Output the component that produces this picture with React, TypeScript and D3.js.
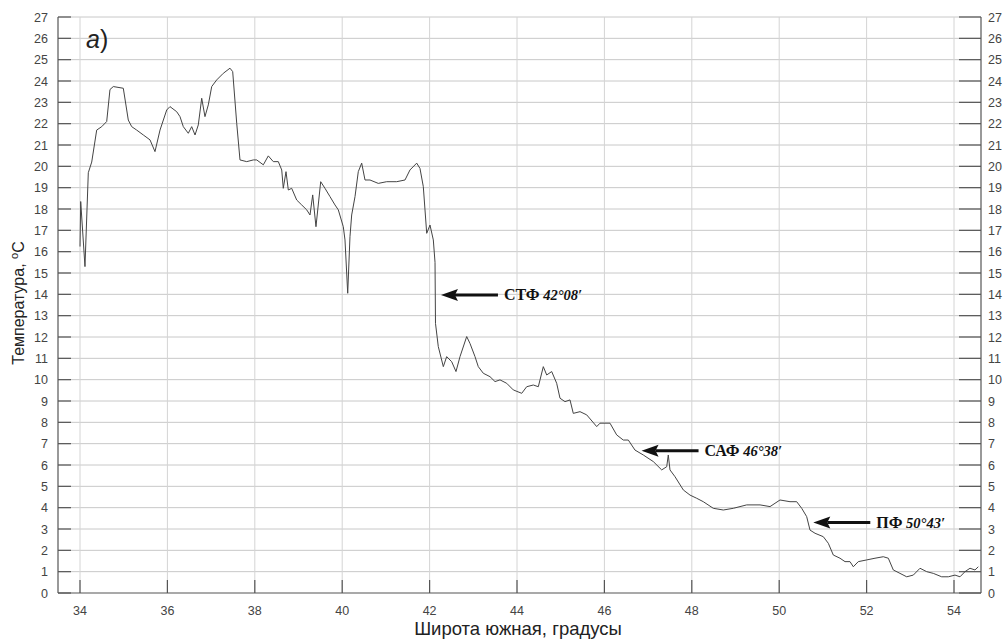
import React from 'react';
import * as d3 from 'd3';

// Широта (градусы) и температура (°C)
const latitudes = [
  34.0, 34.016, 34.114, 34.19, 34.268, 34.382, 34.497, 34.611, 34.686, 34.762, 34.991,
  35.105, 35.183, 35.297, 35.449, 35.602, 35.716, 35.831, 35.984, 36.059, 36.213, 36.288,
  36.364, 36.478, 36.556, 36.632, 36.707, 36.785, 36.86, 36.936, 37.014, 37.128, 37.279,
  37.432, 37.494, 37.586, 37.661, 37.815, 37.966, 38.044, 38.195, 38.309, 38.423, 38.538,
  38.616, 38.652, 38.714, 38.767, 38.844, 38.959, 39.073, 39.188, 39.263, 39.325, 39.4,
  39.508, 39.606, 39.721, 39.835, 39.911, 40.025, 40.064, 40.126, 40.178, 40.217, 40.293,
  40.368, 40.446, 40.522, 40.636, 40.826, 41.018, 41.247, 41.437, 41.551, 41.705, 41.78,
  41.856, 41.934, 42.009, 42.085, 42.124, 42.135, 42.199, 42.314, 42.391, 42.506, 42.604,
  42.696, 42.849, 42.924, 43.039, 43.114, 43.229, 43.382, 43.497, 43.611, 43.764, 43.915,
  44.108, 44.222, 44.373, 44.488, 44.602, 44.68, 44.794, 44.908, 44.984, 45.098, 45.213,
  45.288, 45.442, 45.595, 45.824, 45.899, 46.128, 46.281, 46.432, 46.547, 46.7, 46.89,
  47.119, 47.311, 47.426, 47.462, 47.501, 47.616, 47.806, 47.959, 48.112, 48.263, 48.492,
  48.721, 48.95, 49.256, 49.561, 49.79, 50.018, 50.247, 50.4, 50.515, 50.629, 50.705,
  50.82, 51.009, 51.124, 51.238, 51.391, 51.506, 51.62, 51.696, 51.81, 52.002, 52.192,
  52.382, 52.497, 52.611, 52.764, 52.918, 53.069, 53.222, 53.375, 53.526, 53.718, 53.87,
  54.023, 54.137, 54.252, 54.366, 54.48, 54.556,
];

const temperatures = [
  16.24, 18.35, 15.3, 19.7, 20.2, 21.7, 21.86, 22.1, 23.6, 23.74, 23.66,
  22.17, 21.86, 21.7, 21.47, 21.24, 20.69, 21.7, 22.64, 22.8, 22.56, 22.33,
  21.86, 21.55, 21.86, 21.47, 21.94, 23.19, 22.33, 22.88, 23.74, 24.05, 24.36,
  24.6, 24.44, 22.02, 20.3, 20.22, 20.3, 20.3, 20.07, 20.49, 20.22, 20.22,
  19.83, 18.97, 19.75, 18.89, 18.97, 18.42, 18.19, 17.96, 17.72, 18.66, 17.17,
  19.28, 18.97, 18.58, 18.19, 17.96, 17.17, 16.55, 14.05, 16.7, 17.72, 18.58,
  19.75, 20.15, 19.36, 19.36, 19.2, 19.28, 19.28, 19.36, 19.83, 20.15, 19.9,
  19.05, 16.86, 17.25, 16.55, 15.5, 12.64, 11.55, 10.61, 11.08, 10.84, 10.38,
  11.08, 12.02, 11.7, 11.08, 10.61, 10.3, 10.14, 9.91, 9.99, 9.83, 9.52,
  9.36, 9.67, 9.75, 9.67, 10.61, 10.22, 10.38, 9.83, 9.13, 8.97, 9.05,
  8.42, 8.5, 8.35, 7.8, 7.96, 7.96, 7.41, 7.17, 7.17, 6.7, 6.47,
  6.16, 5.77, 5.92, 6.47, 5.77, 5.45, 4.83, 4.59, 4.44, 4.28, 3.97,
  3.89, 3.97, 4.13, 4.13, 4.05, 4.36, 4.28, 4.28, 3.97, 3.58, 2.95,
  2.8, 2.64, 2.33, 1.78, 1.63, 1.47, 1.47, 1.23, 1.47, 1.55, 1.63,
  1.7, 1.63, 1.08, 0.92, 0.76, 0.84, 1.16, 1.0, 0.92, 0.76, 0.76,
  0.84, 0.76, 1.0, 1.16, 1.08, 1.23,
];

const xTicks = [34, 36, 38, 40, 42, 44, 46, 48, 50, 52, 54];
const yTicks = d3.range(0, 28);

// фронты: название, координата, точка острия стрелки
const frontNames = ['СТФ', 'САФ', 'ПФ'];
const frontCoords = ['42°08′', '46°38′', '50°43′'];
const frontLat = [42.26, 46.85, 50.78];
const frontTemp = [13.97, 6.67, 3.3];

const W = 1006;
const H = 641;
const left = 58;
const right = 981;
const top = 17;
const bottom = 593;

const App = () => {
  const x = d3.scaleLinear().domain([34, 54]).range([80, 954]);
  const y = d3.scaleLinear().domain([0, 27]).range([bottom, top]);

  const pts: [number, number][] = latitudes.map((d, i) => [d, temperatures[i]]);
  const line = d3.line<[number, number]>()
    .x(d => x(d[0]))
    .y(d => y(d[1]));

  const sans = 'Liberation Sans, Arial, sans-serif';
  const serif = 'Liberation Serif, Times New Roman, serif';

  return (
    <svg width={W} height={H} style={{ position: 'absolute', left: 0, top: 0, background: '#fff' }}>
      {/* сетка */}
      {yTicks.filter(t => t > 0).map(t => (
        <line key={'gy' + t} x1={left} x2={right} y1={y(t)} y2={y(t)} stroke="#c8c8c8" strokeWidth={1} />
      ))}
      {xTicks.map(t => (
        <line key={'gx' + t} x1={x(t)} x2={x(t)} y1={top} y2={bottom} stroke="#d4d4d4" strokeWidth={1} />
      ))}

      {/* оси */}
      <line x1={left} x2={left} y1={top} y2={bottom} stroke="#555" strokeWidth={1.2} />
      <line x1={right} x2={right} y1={top} y2={bottom} stroke="#555" strokeWidth={1.2} />
      <line x1={left} x2={right} y1={bottom} y2={bottom} stroke="#555" strokeWidth={1.2} />

      {yTicks.map(t => (
        <g key={'ty' + t}>
          <line x1={left} x2={left + 13} y1={y(t)} y2={y(t)} stroke="#555" strokeWidth={1.2} />
          <line x1={right - 22} x2={right} y1={y(t)} y2={y(t)} stroke="#555" strokeWidth={1.2} />
          <text x={48} y={y(t) + 4.5} textAnchor="end" fontFamily={sans} fontSize={12.5} fill="#444">{t}</text>
          <text x={988} y={y(t) + 4.5} textAnchor="start" fontFamily={sans} fontSize={12.5} fill="#444">{t}</text>
        </g>
      ))}
      {xTicks.map(t => (
        <g key={'tx' + t}>
          <line x1={x(t)} x2={x(t)} y1={bottom} y2={bottom - 13} stroke="#555" strokeWidth={1.2} />
          <text x={x(t)} y={615} textAnchor="middle" fontFamily={sans} fontSize={12.5} fill="#444">{t}</text>
        </g>
      ))}

      {/* кривая температуры */}
      <path d={line(pts) || ''} fill="none" stroke="#444" strokeWidth={1} strokeLinejoin="round" />

      {/* стрелки фронтов */}
      {frontNames.map((name, i) => {
        const tx = x(frontLat[i]);
        const ty = y(frontTemp[i]);
        return (
          <g key={name}>
            <line x1={tx + 14} x2={tx + 57} y1={ty} y2={ty} stroke="#111" strokeWidth={3} />
            <path d={`M${tx},${ty} L${tx + 17},${ty - 6} L${tx + 14},${ty} L${tx + 17},${ty + 6} Z`} fill="#111" />
            <text x={tx + 63} y={ty + 5} fontFamily={serif} fontSize={16} fill="#111">
              <tspan fontWeight="bold">{name}</tspan>
              <tspan fontWeight="bold" fontStyle="italic" fontSize={14.5}> {frontCoords[i]}</tspan>
            </text>
          </g>
        );
      })}

      {/* подписи */}
      <text x={86} y={48} fontFamily={sans} fontSize={25} fontStyle="italic" fill="#222">a<tspan fontStyle="normal">)</tspan></text>
      <text transform={`translate(24, ${303}) rotate(-90)`} textAnchor="middle" fontFamily={sans} fontSize={16} fill="#222">
        Температура, <tspan dy={-6} fontSize={11}>o</tspan><tspan dy={6}>C</tspan>
      </text>
      <text x={518} y={635} textAnchor="middle" fontFamily={sans} fontSize={18.5} fill="#222">Широта южная, градусы</text>
    </svg>
  );
};

export default App;
